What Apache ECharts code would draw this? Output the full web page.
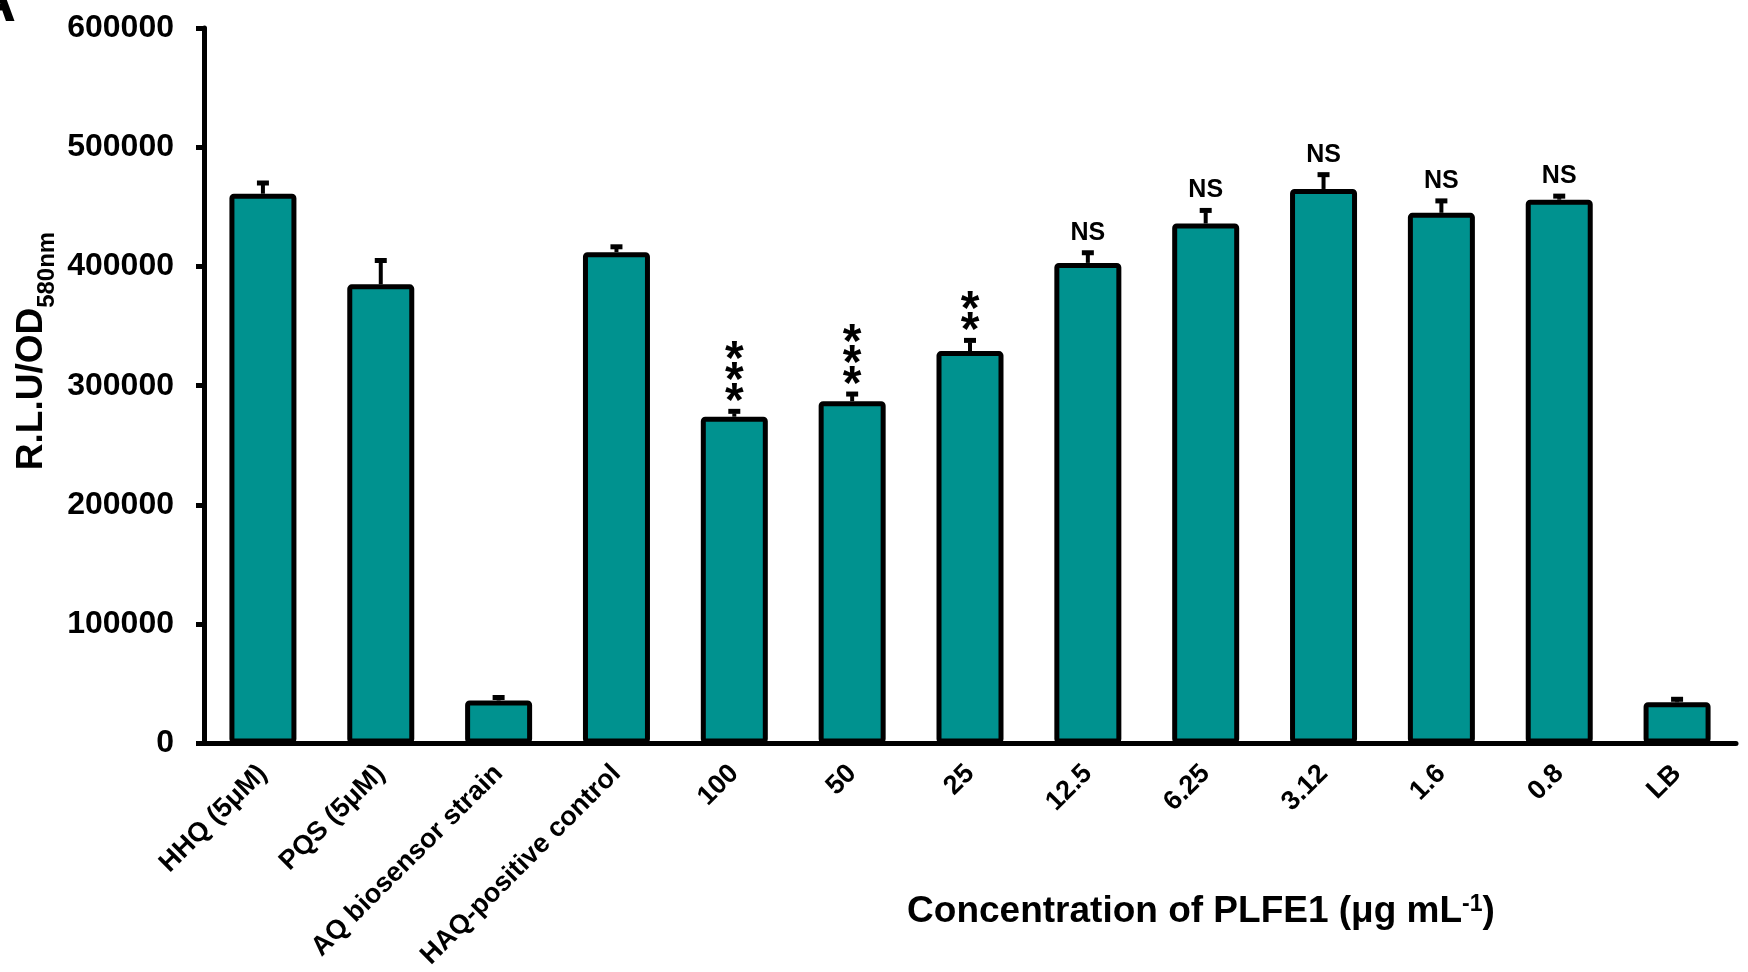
<!DOCTYPE html>
<html>
<head>
<meta charset="utf-8">
<script src="https://cdn.jsdelivr.net/npm/echarts@6/dist/echarts.min.js"></script>
<style>
  html, body { margin: 0; padding: 0; background: #fff; }
  #chart { width: 1748px; height: 972px; }
</style>
</head>
<body>
<div id="chart"></div>
<script>
// Treatments and PLFE1 concentrations (µg mL-1)
const categories = ['HHQ (5μM)', 'PQS (5μM)', 'AQ biosensor strain', 'HAQ-positive control',
  '100', '50', '25', '12.5', '6.25', '3.12', '1.6', '0.8', 'LB'];
// Mean R.L.U/OD580nm
const means = [461000, 385000, 36000, 412000, 274000, 287000, 329000, 403000, 436000, 465000, 445000, 456000, 34500];
// Standard deviation (upper error bar)
const errors = [9000, 20000, 2500, 4500, 4500, 6000, 9000, 8500, 11000, 12000, 10000, 3000, 2500];
// Significance versus positive control
const significance = ['', '', '', '', '***', '***', '**', 'NS', 'NS', 'NS', 'NS', 'NS', ''];
// Y axis range
const yTicks = { min: 0, max: 600000, step: 100000 };

const FONT = '"Liberation Sans", Arial, sans-serif';
const TEAL = '#00928F';

const chart = echarts.init(document.getElementById('chart'), null, { renderer: 'canvas' });

const errData = categories.map((c, i) => [i, means[i], errors[i]]);

// Upper error bar with cap, plus the significance mark above it
function renderError(params, api) {
  const i = api.value(0);
  const v = api.value(1);
  const e = api.value(2);
  const sig = significance[i];
  const base = api.coord([i, v]);
  const top = api.coord([i, v + e]);
  const children = [
    { type: 'line', shape: { x1: base[0], y1: base[1], x2: top[0], y2: top[1] + 2 },
      style: { stroke: '#000', lineWidth: 4 } },
    { type: 'rect', shape: { x: top[0] - 6, y: top[1] - 2.5, width: 12, height: 5 },
      style: { fill: '#000' } }
  ];
  if (sig) {
    const stars = sig.charAt(0) === '*';
    children.push({
      type: 'text',
      x: top[0],
      y: stars ? top[1] + 2 : top[1] - 6,
      style: {
        text: stars ? sig.split('').join('\n') : sig,
        fill: '#000',
        fontFamily: FONT,
        fontWeight: 'bold',
        fontSize: stars ? 48 : 25,
        lineHeight: stars ? 21 : 28,
        align: 'center',
        verticalAlign: 'bottom'
      }
    });
  }
  return { type: 'group', children };
}

const option = {
  backgroundColor: '#fff',
  animation: false,
  grid: { left: 204, right: 12, top: 28, bottom: 225 },
  xAxis: {
    type: 'category',
    data: categories,
    axisLine: { lineStyle: { color: '#000', width: 5 } },
    axisTick: { show: false },
    axisLabel: {
      interval: 0, rotate: 45, margin: 26,
      color: '#000', fontFamily: FONT, fontWeight: 'bold', fontSize: 27
    }
  },
  yAxis: {
    type: 'value',
    min: yTicks.min, max: yTicks.max, interval: yTicks.step,
    axisLine: { show: true, lineStyle: { color: '#000', width: 5 } },
    axisTick: { show: true, length: 8, lineStyle: { color: '#000', width: 5 } },
    splitLine: { show: false },
    axisLabel: {
      margin: 30,
      formatter: (v) => String(v),
      color: '#000', fontFamily: FONT, fontWeight: 'bold', fontSize: 32
    }
  },
  series: [
    {
      type: 'bar',
      data: means,
      barWidth: 67,
      itemStyle: { color: TEAL, borderColor: '#000', borderWidth: 5, borderRadius: 2 },
      z: 2
    },
    {
      type: 'custom',
      data: errData,
      encode: { x: 0, y: 1 },
      renderItem: renderError,
      z: 3
    }
  ],
  graphic: [
    {
      type: 'text', x: 16, y: 4,
      style: { text: 'A', fill: '#000', fontFamily: FONT, fontWeight: 'bold', fontSize: 60,
        align: 'right', verticalAlign: 'middle' }
    },
    {
      type: 'text',
      x: 32, y: 351, rotation: Math.PI / 2,
      style: {
        text: '{a|R.L.U/OD}{b|580nm}',
        align: 'center', verticalAlign: 'middle',
        rich: {
          a: { fontFamily: FONT, fontWeight: 'bold', fontSize: 37, lineHeight: 44, fill: '#000' },
          b: { fontFamily: FONT, fontWeight: 'bold', fontSize: 24, lineHeight: 24, padding: [30, 0, 0, 0], fill: '#000' }
        }
      }
    },
    {
      type: 'text',
      x: 1201, y: 912,
      style: {
        text: '{a|Concentration of PLFE1 (μg mL}{s|-1}{a|)}',
        align: 'center', verticalAlign: 'middle',
        rich: {
          a: { fontFamily: FONT, fontWeight: 'bold', fontSize: 37, lineHeight: 44, fill: '#000' },
          s: { fontFamily: FONT, fontWeight: 'bold', fontSize: 23, lineHeight: 23, verticalAlign: 'top', padding: [3, 0, 0, 0], fill: '#000' }
        }
      }
    }
  ]
};

chart.setOption(option);
</script>
</body>
</html>
